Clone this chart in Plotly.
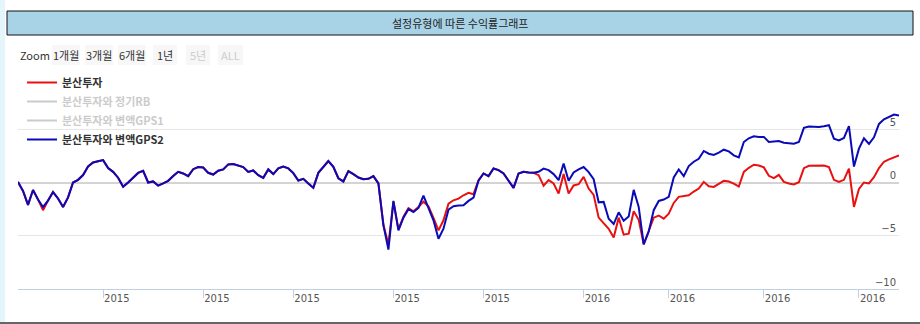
import plotly.graph_objects as go

# ---------------- data ----------------
# trading-day index (one step = one observation)
day_index = list(range(177))

# 분산투자와 변액GPS2 (blue)
gps2 = [
    0.06, -0.8, -2.1, -0.7, -1.6, -2.3, -1.7, -0.9, -1.5, -2.3,
    -1.4, 0.0, 0.25, 0.7, 1.5, 1.88, 2.0, 2.1, 1.35, 1.0,
    0.45, -0.4, 0.0, 0.5, 0.9, 1.1, 0.0, 0.1, -0.3, -0.08,
    0.16, 0.6, 1.0, 0.85, 0.6, 1.25, 1.45, 1.41, 0.91, 0.75,
    1.1, 1.23, 1.7, 1.73, 1.6, 1.45, 1.0, 1.13, 0.69, 0.44,
    1.23, 0.79, 1.32, 1.5, 1.32, 0.88, 0.19, 0.35, -0.09, -0.5,
    0.91, 1.45, 2.01, 1.48, 0.4, 0.1, 1.07, 0.79, 0.47, 0.3,
    0.35, 0.6, -0.09, -4.0, -6.3, -1.73, -4.5, -3.3, -2.5, -2.77,
    -2.39, -1.23, -2.48, -3.55, -5.28, -4.34, -2.55, -2.23, -2.17, -2.14,
    -1.73, -1.42, 0.16, 0.85, 0.6, 1.32, 1.16, 0.85, 0.16, -0.5,
    0.85, 1.0, 0.94, 0.91, 1.0, 1.3, 1.16, 0.79, 0.22, 1.79,
    0.16, 0.94, 1.23, 1.45, 0.97, 0.31, -1.86, -1.82, -3.4, -3.9,
    -2.8, -3.6, -3.2, -0.69, -2.3, -5.8, -4.6, -2.6, -1.73, -1.6,
    -1.35, 0.47, 1.23, 0.6, 1.54, 1.95, 2.23, 2.96, 2.7, 2.58,
    2.8, 3.08, 2.92, 2.55, 2.36, 3.8, 4.15, 4.34, 4.28, 4.28,
    3.8, 3.87, 3.9, 3.74, 3.68, 3.65, 3.8, 5.13, 5.25, 5.22,
    5.22, 5.28, 5.38, 4.12, 3.96, 4.18, 5.3, 1.5, 3.18, 4.15,
    3.62, 4.25, 5.5, 5.94, 6.16, 6.38, 6.3,
]

# 분산투자 (red)
diversified = [
    0.06, -0.8, -2.1, -0.7, -1.6, -2.6, -1.7, -0.9, -1.5, -2.3,
    -1.4, 0.0, 0.25, 0.7, 1.5, 1.88, 2.0, 2.1, 1.35, 1.0,
    0.45, -0.4, 0.0, 0.5, 0.9, 1.1, 0.0, 0.1, -0.3, -0.08,
    0.16, 0.6, 1.0, 0.85, 0.6, 1.25, 1.45, 1.41, 0.91, 0.75,
    1.1, 1.23, 1.7, 1.73, 1.6, 1.45, 1.0, 1.13, 0.69, 0.44,
    1.23, 0.79, 1.32, 1.5, 1.32, 0.88, 0.19, 0.35, -0.09, -0.5,
    0.91, 1.45, 2.01, 1.48, 0.4, 0.1, 1.07, 0.79, 0.47, 0.3,
    0.35, 0.6, -0.09, -4.0, -5.8, -1.8, -4.4, -3.2, -2.4, -2.7,
    -2.3, -1.8, -2.23, -3.33, -4.5, -3.55, -1.98, -1.67, -1.51, -1.2,
    -0.97, -1.1, 0.22, 0.85, 0.6, 1.32, 1.16, 0.85, 0.16, -0.5,
    0.85, 1.0, 0.94, 0.91, 0.69, -0.3, 0.22, -0.09, -1.04, 0.79,
    -1.04, -0.28, -0.16, 0.53, -0.57, -1.16, -3.3, -3.8, -4.34, -5.16,
    -3.3, -4.9, -4.8, -2.7, -3.5, -5.8, -4.6, -3.3, -3.1, -3.4,
    -2.92, -1.92, -1.35, -1.29, -1.2, -0.85, -0.57, 0.06, -0.35, -0.41,
    -0.1, 0.16, 0.09, -0.1, -0.38, 1.0, 1.38, 1.67, 1.6, 1.42,
    0.63, 0.41, 0.72, 0.06, -0.09, -0.19, 0.03, 1.35, 1.57, 1.57,
    1.64, 1.6, 1.45, 0.25, 0.06, 0.25, 1.3, -2.3, -0.6, 0.0,
    -0.09, 0.5, 1.35, 1.95, 2.17, 2.39, 2.55,
]

# hidden series (switched off in the legend; their values are not shown in the picture)
regular_rb = [None]
gps1 = [None]

series_names = ["분산투자", "분산투자와 정기RB", "분산투자와 변액GPS1", "분산투자와 변액GPS2"]

x_tick_pos = [17, 37, 55, 75, 93, 113, 130, 149, 168]
x_tick_labels = ["2015", "2015", "2015", "2015", "2015", "2016", "2016", "2016", "2016"]

y_tick_vals = [-10, -5, 0, 5, 10]
y_tick_labels = ["\u221210", "\u22125", "0", "5", ""]

title_text = "설정유형에 따른 수익률그래프"
zoom_buttons = ["1개월", "3개월", "6개월", "1년", "5년", "ALL"]
zoom_enabled = [True, True, True, True, False, False]

# ---------------- figure ----------------
W, H = 920, 324


def px(x):
    return x / W


def py(y):
    return (H - y) / H


KR = "Noto Sans CJK KR"
fig = go.Figure()

fig.add_trace(go.Scatter(x=day_index, y=diversified, mode="lines", name=series_names[0],
                         line=dict(color="#e81010", width=2)))
fig.add_trace(go.Scatter(x=day_index[:1], y=regular_rb, mode="lines", visible="legendonly",
                         name="<b><span style='color:#999999'>%s</span></b>" % series_names[1],
                         line=dict(color="#999999", width=2)))
fig.add_trace(go.Scatter(x=day_index[:1], y=gps1, mode="lines", visible="legendonly",
                         name="<b><span style='color:#999999'>%s</span></b>" % series_names[2],
                         line=dict(color="#999999", width=2)))
fig.add_trace(go.Scatter(x=day_index, y=gps2, mode="lines", name=series_names[3],
                         line=dict(color="#0a0ab8", width=2)))

shapes = [
    # left light strip
    dict(type="rect", xref="paper", yref="paper", x0=0, x1=px(5), y0=0, y1=1,
         fillcolor="#e4f5fb", line=dict(width=0), layer="below"),
    # bottom dark line
    dict(type="rect", xref="paper", yref="paper", x0=0, x1=1, y0=0, y1=py(322),
         fillcolor="#666666", line=dict(width=0), layer="below"),
    # title bar
    dict(type="rect", xref="paper", yref="paper", x0=px(7), x1=px(913), y0=py(35), y1=py(11),
         fillcolor="#a8d3e7", line=dict(color="#111111", width=1), layer="below"),
]

annotations = [
    dict(text=title_text, xref="paper", yref="paper", x=0.5, y=py(23), showarrow=False,
         xanchor="center", yanchor="middle", font=dict(family=KR, size=11, color="#222222")),
    dict(text="Zoom", xref="paper", yref="paper", x=px(18), y=py(55), showarrow=False,
         xanchor="left", yanchor="middle", font=dict(family=KR, size=11, color="#333333")),
]

btn_left = [52, 85, 118, 153, 186, 218]
btn_width = [28, 28, 28, 24, 24, 25]
for label, enabled, bl, bw in zip(zoom_buttons, zoom_enabled, btn_left, btn_width):
    shapes.append(dict(type="rect", xref="paper", yref="paper", x0=px(bl), x1=px(bl + bw),
                       y0=py(65), y1=py(45), fillcolor="#f7f7f7", line=dict(width=0), layer="below"))
    annotations.append(dict(text=label, xref="paper", yref="paper", x=px(bl + bw / 2), y=py(55),
                            showarrow=False, xanchor="center", yanchor="middle",
                            font=dict(family=KR, size=11, color="#333333" if enabled else "#cccccc")))

fig.update_layout(
    width=W, height=H,
    margin=dict(l=0, r=0, t=0, b=0),
    paper_bgcolor="white", plot_bgcolor="white",
    shapes=shapes, annotations=annotations,
    showlegend=True,
    legend=dict(x=px(22), y=py(68), xanchor="left", yanchor="top",
                bgcolor="rgba(0,0,0,0)", tracegroupgap=0,
                font=dict(family=KR, size=11, color="#333333", weight="bold")),
    xaxis=dict(domain=[px(18), px(899)], range=[0, 176], tickmode="array",
               tickvals=x_tick_pos, ticktext=x_tick_labels, showgrid=False, zeroline=False,
               showline=True, linecolor="#c0d0e0", linewidth=1,
               ticks="outside", ticklen=8, tickcolor="#c0d0e0", tickwidth=1,
               ticklabelposition="outside right",
               tickfont=dict(family="DejaVu Sans", size=10, color="#555555")),
    yaxis=dict(domain=[py(289), py(76)], range=[-10, 10], side="right", tickmode="array",
               tickvals=y_tick_vals, ticktext=y_tick_labels,
               showgrid=True, gridcolor="#e6e6e6", gridwidth=1,
               zeroline=True, zerolinecolor="#d4d4d4", zerolinewidth=2,
               ticks="", ticklabelposition="inside top",
               tickfont=dict(family="DejaVu Sans", size=10, color="#555555")),
)

fig.write_html("out.html")
